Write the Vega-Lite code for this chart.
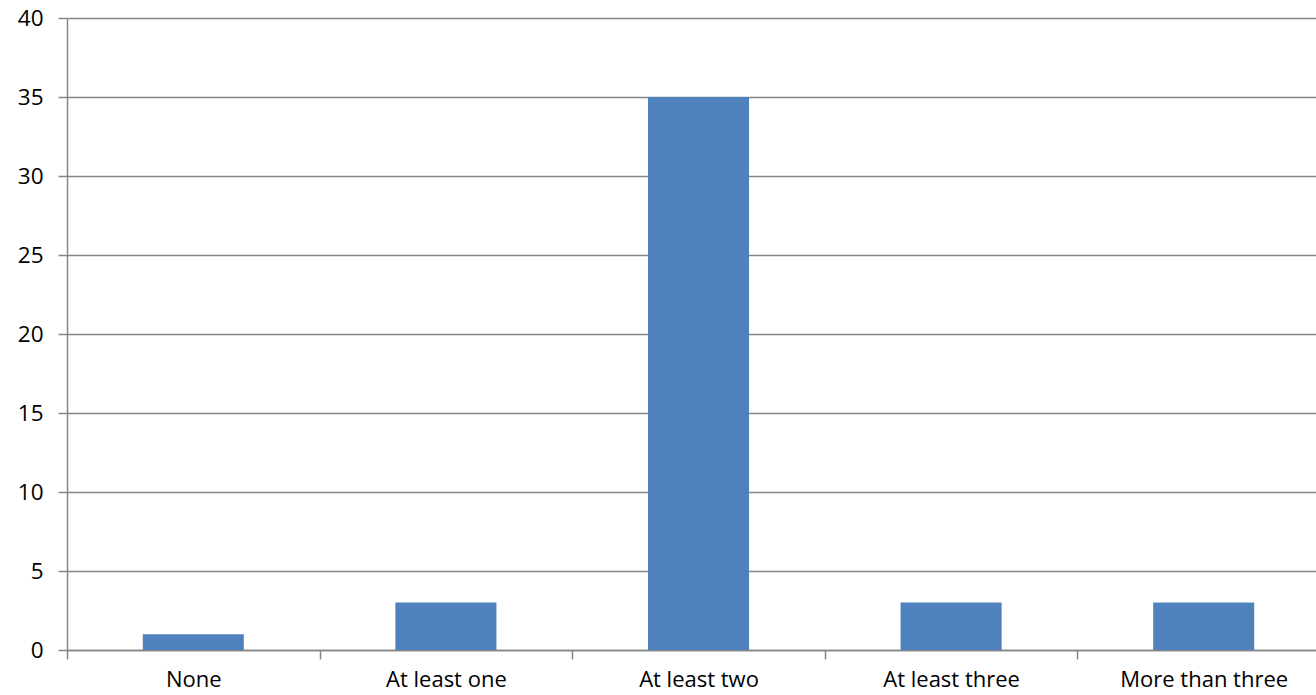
{
  "$schema": "https://vega.github.io/schema/vega-lite/v6.json",
  "autosize": "none",
  "width": 1249,
  "height": 632,
  "padding": {"left": 67, "top": 18, "right": 0, "bottom": 45},
  "background": "white",
  "data": {"values": [
    {"category": "None", "count": 1},
    {"category": "At least one", "count": 3},
    {"category": "At least two", "count": 35},
    {"category": "At least three", "count": 3},
    {"category": "More than three", "count": 3}
  ]},
  "config": {
    "view": {"stroke": null},
    "font": "Open Sans"
  },
  "mark": {"type": "bar", "color": "#4f81bd", "width": {"band": 0.4}},
  "encoding": {
    "x": {
      "field": "category",
      "type": "nominal",
      "sort": null,
      "scale": {"range": [0, 1263], "paddingInner": 0, "paddingOuter": 0},
      "axis": {
        "title": null,
        "labelAngle": 0,
        "labelFontSize": 22,
        "labelColor": "#000000",
        "labelPadding": 10,
        "tickBand": "extent",
        "tickSize": 9,
        "tickColor": "#868686",
        "domainColor": "#868686",
        "domainWidth": 1.5,
        "tickWidth": 1.5,
        "grid": false
      }
    },
    "y": {
      "field": "count",
      "type": "quantitative",
      "scale": {"domain": [0, 40], "nice": false},
      "axis": {
        "title": null,
        "values": [0, 5, 10, 15, 20, 25, 30, 35, 40],
        "labelFontSize": 22.5,
        "labelColor": "#000000",
        "labelPadding": 15,
        "tickSize": 9,
        "tickColor": "#868686",
        "tickWidth": 1.5,
        "domainColor": "#868686",
        "domainWidth": 1.5,
        "grid": true,
        "gridColor": "#868686",
        "gridWidth": 1.5,
        "gridOpacity": 1
      }
    }
  }
}
